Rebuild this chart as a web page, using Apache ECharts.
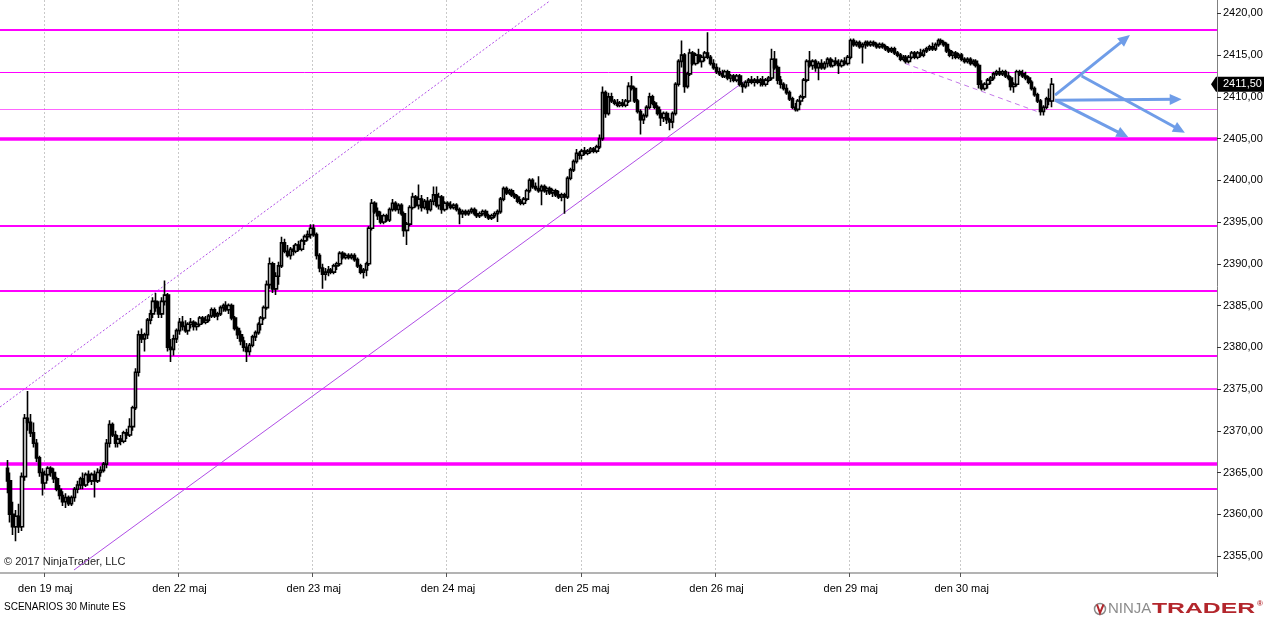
<!DOCTYPE html>
<html>
<head>
<meta charset="utf-8">
<script src="https://cdn.jsdelivr.net/npm/echarts@6/dist/echarts.min.js"></script>
<style>
  html, body { margin: 0; padding: 0; background: #fff; }
  #chart { width: 1264px; height: 617px; }
</style>
</head>
<body>
<div id="chart"></div>
<script>
    // ---------- 30 minute ES bars, each [open, close, low, high] ----------
    const may18 = [
      [2365.5,2364,2362.5,2366.5],[2364,2360,2359,2365],[2360,2358.5,2357.5,2361.5],[2358.5,2359.75,2356.75,2360.5],
      [2359.75,2358.5,2357.75,2361.25],[2358.5,2364.5,2358,2365],[2364.5,2371.5,2364,2372],[2371.5,2371,2370,2374.75],
      [2371,2369.75,2369.25,2372],[2369.75,2368.5,2368,2371],[2368.5,2366.75,2366.25,2369],[2366.75,2365,2364.5,2367],
      [2365,2363.75,2362.25,2365.5]
    ];
    const may19 = [
      [2363.75,2364.75,2363,2365.25],[2364.75,2365.5,2364,2365.75],[2365.5,2365,2364.5,2365.75],[2365,2364.25,2363.75,2365.5],
      [2364.25,2363,2362.75,2364.5],[2363,2362.25,2361.75,2363.5],[2362.25,2361.5,2361,2362.75],[2361.5,2362,2360.75,2362.5],
      [2362,2361.25,2361,2362.25],[2361.25,2362,2361,2362.25],[2362,2363,2361.5,2363.25],[2363,2363.5,2362.5,2364],
      [2363.5,2364.25,2363,2364.5],[2364.25,2363.5,2363,2365],[2363.5,2364.75,2363.25,2365],[2364.75,2364,2363.75,2365.25],
      [2364,2364.75,2363.5,2365],[2364.75,2364,2362,2365.25],[2364,2365,2363.75,2365.5],[2365,2365.25,2364.5,2365.75],
      [2365.25,2366,2365,2366.25],[2366,2368.5,2365.5,2369],[2368.5,2370.75,2368,2371.25],[2370.75,2369.5,2369.25,2371],
      [2369.5,2368.5,2368,2370],[2368.5,2369,2368,2369.5],[2369,2368.75,2368.25,2369.5],[2368.75,2369.75,2368.5,2370],
      [2369.75,2369.5,2369,2370.25],[2369.5,2370.5,2369.25,2371.5],[2370.5,2372.75,2370,2373],[2372.75,2377,2372.5,2377.5],
      [2377,2381.5,2376.5,2382],[2381.5,2381,2380.5,2382.25],[2381,2381.5,2379.5,2381.75],[2381.5,2383.25,2381,2383.5],
      [2383.25,2384,2382.75,2384.5],[2384,2385.5,2383.5,2386],[2385.5,2384.75,2384.25,2386.5],[2384.75,2384,2383.5,2385.5],
      [2384,2385.5,2383.5,2386],[2385.5,2386.25,2385,2388],[2386.25,2380,2379.5,2386.5],[2380,2379.75,2378.25,2381],
      [2379.75,2381,2379,2381.5],[2381,2382,2380.5,2382.25]
    ];
    const may22 = [
      [2382,2383,2381.5,2383.5],[2383,2382.5,2382,2383.75],[2382.5,2382,2381.75,2383.25],[2382,2382.75,2381.5,2383],
      [2382.75,2383,2382.25,2383.5],[2383,2382.5,2382,2383.25],[2382.5,2382.75,2382,2383],[2382.75,2383.5,2382.5,2383.75],
      [2383.5,2383,2382.75,2383.75],[2383,2383.25,2382.75,2383.75],[2383.25,2383.75,2383,2384],[2383.75,2384.5,2383.5,2384.75],
      [2384.5,2383.75,2383.5,2384.75],[2383.75,2384,2383.25,2384.25],[2384,2384.75,2383.75,2385],[2384.75,2385,2384.25,2385.25],
      [2385,2384.5,2384.25,2385.5],[2384.5,2385,2384,2385.25],[2385,2383.5,2383.25,2385.25],[2383.5,2382.25,2382,2383.75],
      [2382.25,2381.5,2381,2382.5],[2381.5,2380.75,2380.25,2382],[2380.75,2380,2379.5,2381.25],[2380,2379.5,2378.25,2380.5],
      [2379.5,2380.25,2379,2380.5],[2380.25,2381.25,2380,2381.5],[2381.25,2381.75,2380.75,2382],[2381.75,2382.75,2381.5,2383],
      [2382.75,2383.5,2382,2383.75],[2383.5,2384.75,2383.25,2385],[2384.75,2387.5,2384.5,2388],[2387.5,2390,2387,2390.75],
      [2390,2387,2386.5,2390.25],[2387,2388.5,2386.25,2389],[2388.5,2389.75,2387.5,2390.25],[2389.75,2392.5,2389.5,2393.25],
      [2392.5,2391.5,2391.25,2393],[2391.5,2391,2390.75,2392.25],[2391,2391.75,2390.5,2392],[2391.75,2391.5,2391,2392.25],
      [2391.5,2392.25,2391.25,2392.5],[2392.25,2391.75,2391.5,2392.75],[2391.75,2392.75,2391.5,2393],[2392.75,2393.25,2392.25,2393.5],
      [2393.25,2393.5,2392.75,2394],[2393.5,2394.25,2393,2394.75]
    ];
    const may23 = [
      [2394.25,2393.5,2393.25,2394.75],[2393.5,2391,2390.5,2393.75],[2391,2389.5,2389,2391.25],[2389.5,2388.75,2387,2390],
      [2388.75,2389,2388,2389.5],[2389,2389.25,2388.5,2389.75],[2389.25,2389,2388.75,2389.5],[2389,2389.75,2388.75,2390],
      [2389.75,2390,2389.25,2390.25],[2390,2391.25,2389.75,2391.5],[2391.25,2390.75,2390.5,2391.5],[2390.75,2391,2390.5,2391.25],
      [2391,2390.75,2390.5,2391.25],[2390.75,2391,2390.5,2391.25],[2391,2390.5,2390.25,2391.25],[2390.5,2389.75,2389.5,2390.75],
      [2389.75,2389,2388.75,2390],[2389,2389.25,2388.25,2389.5],[2389.25,2390,2388.5,2390.25],[2390,2394.25,2389.75,2394.5],
      [2394.25,2397.25,2394,2397.75],[2397.25,2396.25,2396,2397.5],[2396.25,2395.75,2395.25,2396.75],[2395.75,2395,2394.75,2396.25],
      [2395,2395.75,2394.75,2396],[2395.75,2395.25,2395,2396],[2395.25,2396.5,2395,2396.75],[2396.5,2397.25,2396.25,2397.75],
      [2397.25,2396.5,2396.25,2397.5],[2396.5,2397,2396,2397.25],[2397,2396,2395.75,2397.25],[2396,2394,2393.25,2396.25],
      [2394,2394.75,2392.25,2395],[2394.75,2396.75,2394.5,2397],[2396.75,2398,2396.5,2398.5],[2398,2397,2396.75,2398.25],
      [2397,2397.75,2396.5,2399.5],[2397.75,2396.75,2396.25,2398.25],[2396.75,2397.5,2396.5,2397.75],[2397.5,2396.5,2396,2398],
      [2396.5,2397.5,2396.25,2397.75],[2397.5,2398.25,2397,2399.25],[2398.25,2397,2396.75,2399.25],[2397,2398,2396.5,2398.5],
      [2398,2396.5,2396,2398.25],[2396.5,2397.25,2396.25,2397.5]
    ];
    const may24 = [
      [2397.25,2397,2396.5,2397.5],[2397,2396.75,2396.5,2397.5],[2396.75,2397,2396.5,2397.25],[2397,2396.5,2396.25,2397.25],
      [2396.5,2396,2394.75,2396.75],[2396,2396.25,2395.5,2396.5],[2396.25,2396,2395.75,2396.5],[2396,2396.25,2395.75,2396.5],
      [2396.25,2396.5,2396,2396.75],[2396.5,2396,2395.75,2396.75],[2396,2395.75,2395.5,2396.5],[2395.75,2396,2395.5,2396.25],
      [2396,2396.25,2395.75,2396.5],[2396.25,2395.75,2395.5,2396.5],[2395.75,2395.5,2395.25,2396],[2395.5,2395.75,2395.25,2396],
      [2395.75,2396,2395.5,2396.25],[2396,2396.25,2395,2396.5],[2396.25,2397.75,2396,2398],[2397.75,2399,2397.5,2399.25],
      [2399,2398.5,2398.25,2399.25],[2398.5,2398.75,2398.25,2399],[2398.75,2398.25,2398,2399],[2398.25,2398,2397.75,2398.5],
      [2398,2397.5,2397.25,2398.25],[2397.5,2397.25,2397,2397.75],[2397.25,2397.75,2397,2398],[2397.75,2398.75,2397.5,2399],
      [2398.75,2400,2398.5,2400.25],[2400,2399.25,2399,2400.25],[2399.25,2399,2398.75,2399.75],[2399,2398.75,2398.5,2400.5],
      [2398.75,2399.25,2397,2399.5],[2399.25,2398.75,2398.5,2399.5],[2398.75,2399,2398.25,2399.25],[2399,2398.5,2398.25,2399.25],
      [2398.5,2398.75,2398,2399],[2398.75,2398.25,2398,2399],[2398.25,2398,2397.75,2398.75],[2398,2398.25,2397.5,2398.5],
      [2398.25,2398,2396,2398.5],[2398,2400.25,2397.75,2400.5],[2400.25,2401.25,2400,2401.5],[2401.25,2402.25,2401,2402.5],
      [2402.25,2403.25,2402,2403.75],[2403.25,2403,2402.5,2403.5]
    ];
    const may25 = [
      [2403,2403.5,2402.5,2403.75],[2403.5,2403.25,2403,2404],[2403.25,2403.5,2403,2403.75],[2403.5,2403.75,2403.25,2404],
      [2403.75,2403.5,2403.25,2404],[2403.5,2404,2403.25,2404.25],[2404,2405,2403.75,2405.5],[2405,2410.5,2404.75,2411.25],
      [2410.5,2408,2407.5,2410.75],[2408,2410,2407.75,2410.5],[2410,2409.5,2409.25,2410.5],[2409.5,2409.25,2409,2409.75],
      [2409.25,2409,2408.75,2409.75],[2409,2409.25,2408.75,2409.5],[2409.25,2409,2408.75,2409.75],[2409,2409.5,2408.75,2409.75],
      [2409.5,2411.25,2409.25,2411.75],[2411.25,2411,2410.75,2412.5],[2411,2409.5,2409.25,2411.25],[2409.5,2408.25,2408,2409.75],
      [2408.25,2407.25,2405.5,2408.5],[2407.25,2407.75,2406.75,2408],[2407.75,2408.75,2407.5,2409],[2408.75,2410,2408.5,2410.5],
      [2410,2409.25,2409,2410.25],[2409.25,2408.75,2408.5,2409.5],[2408.75,2408,2407.75,2409],[2408,2407.5,2406.5,2408.5],
      [2407.5,2408,2407,2408.25],[2408,2407.25,2406.75,2408.25],[2407.25,2407,2406,2407.5],[2407,2408,2406.25,2408.25],
      [2408,2411.5,2407.75,2411.75],[2411.5,2414.25,2411.25,2414.5],[2414.25,2415,2413.5,2416.75],[2415,2411.25,2410.5,2415.25],
      [2411.25,2412.75,2411,2413],[2412.75,2415.25,2412.5,2415.75],[2415.25,2414,2413.75,2415.5],[2414,2415,2413.75,2415.25],
      [2415,2414.25,2414,2415.75],[2414.25,2414.75,2413.5,2415],[2414.75,2415.25,2414.25,2415.5],[2415.25,2414.75,2414.5,2417.75],
      [2414.75,2414,2413.75,2415],[2414,2413.5,2413.25,2414.5]
    ];
    const may26 = [
      [2413.5,2413,2412.75,2414],[2413,2412.75,2412.5,2413.5],[2412.75,2412.5,2412.25,2413.25],[2412.5,2413,2412.25,2413.25],
      [2413,2412.25,2412,2413.25],[2412.25,2412.5,2411.75,2412.75],[2412.5,2412,2411.75,2412.75],[2412,2412.5,2411.75,2412.75],
      [2412.5,2411.5,2411.25,2412.75],[2411.5,2411.25,2410.5,2411.75],[2411.25,2411.75,2411,2412],[2411.75,2412,2411.25,2412.25],
      [2412,2411.75,2411.5,2412.5],[2411.75,2412,2411.25,2412.25],[2412,2411.75,2411.5,2412.5],[2411.75,2412,2411.25,2412.25],
      [2412,2411.5,2411.25,2412.5],[2411.5,2412,2411.25,2412.25],[2412,2412.25,2411.75,2412.5],[2412.25,2414.5,2412,2415.75],
      [2414.5,2413.5,2413.25,2415.5],[2413.5,2412,2411.5,2413.75],[2412,2411.5,2411,2412.5],[2411.5,2411,2410.75,2411.75],
      [2411,2410.5,2410.25,2411.5],[2410.5,2409.75,2409.5,2410.75],[2409.75,2408.75,2408.5,2410],[2408.75,2408.5,2408.25,2409.25],
      [2408.5,2409.5,2408.25,2409.75],[2409.5,2410,2409,2410.25],[2410,2412,2409.75,2412.25],[2412,2414.25,2411.75,2414.5],
      [2414.25,2413.75,2413.5,2415.5],[2413.75,2414.25,2413.25,2414.5],[2414.25,2413.5,2413,2414.5],[2413.5,2414,2412,2414.25],
      [2414,2413.5,2413.25,2414.5],[2413.5,2414,2413.25,2414.25],[2414,2414.5,2413.5,2414.75],[2414.5,2413.75,2413.5,2414.75],
      [2413.75,2414.25,2413.5,2414.5],[2414.25,2414,2413.75,2414.75],[2414,2413.75,2412.75,2414.5],[2413.75,2414.25,2413.5,2414.5],
      [2414.25,2414,2413.75,2414.75],[2414,2414.75,2413.75,2415]
    ];
    const may29 = [
      [2414.75,2416.75,2414.5,2417],[2416.75,2416.25,2416,2417],[2416.25,2416.5,2416,2416.75],[2416.5,2416,2415.75,2416.75],
      [2416,2416.25,2414,2416.5],[2416.25,2416.5,2415.75,2416.75],[2416.5,2416.25,2416,2416.75],[2416.25,2416.5,2416,2416.75],
      [2416.5,2416.25,2416,2416.75],[2416.25,2416,2415.75,2416.5],[2416,2416.25,2415.75,2416.5],[2416.25,2416,2415.75,2416.5],
      [2416,2415.75,2415.5,2416.25],[2415.75,2415.5,2415.25,2416],[2415.5,2415.75,2415.25,2416],[2415.75,2415.25,2415,2416],
      [2415.25,2415,2414.75,2415.5],[2415,2414.5,2414.25,2415.25],[2414.5,2414.75,2414.25,2415],[2414.75,2414.25,2414,2415],
      [2414.25,2414.75,2414,2415],[2414.75,2415.25,2414.5,2415.5],[2415.25,2414.75,2414.5,2415.5],[2414.75,2415.25,2414.5,2415.5],
      [2415.25,2415,2414.75,2415.75],[2415,2415.5,2414.75,2415.75],[2415.5,2415.75,2415.25,2416],[2415.75,2416,2415.5,2416.25],
      [2416,2415.75,2415.5,2416.5],[2415.75,2416.25,2415.5,2416.5],[2416.25,2416.75,2416,2417],[2416.75,2416.5,2416.25,2417],
      [2416.5,2416.25,2416,2416.75],[2416.25,2415.5,2415.25,2416.5],[2415.5,2415,2414.75,2415.75],[2415,2415.25,2414.5,2415.5],
      [2415.25,2414.75,2414.5,2415.5],[2414.75,2415,2414.5,2415.25]
    ];
    const may30 = [
      [2415,2414.5,2414.25,2415.25],[2414.5,2414.25,2414,2414.75],[2414.25,2414.5,2414,2414.75],[2414.5,2414,2413.75,2414.75],
      [2414,2414.25,2413.75,2414.5],[2414.25,2413.75,2413.5,2414.5],[2413.75,2411.5,2411,2414],[2411.5,2411,2410.75,2412],
      [2411,2411.5,2410.75,2411.75],[2411.5,2412,2411,2412.25],[2412,2412.25,2411.5,2412.5],[2412.25,2412.75,2412,2413],
      [2412.75,2413,2412.5,2413.25],[2413,2412.75,2412.5,2413.5],[2412.75,2413,2412.5,2413.25],[2413,2412.5,2412.25,2413.25],
      [2412.5,2412.25,2412,2413],[2412.25,2411.25,2410.75,2412.5],[2411.25,2411.5,2410.5,2411.75],[2411.5,2413,2411.25,2413.25],
      [2413,2412.75,2412.5,2413.25],[2412.75,2412.5,2412.25,2413.25],[2412.5,2412.25,2412,2413],[2412.25,2411.75,2411.5,2412.5],
      [2411.75,2411,2410.75,2412],[2411,2410.25,2410,2411.25],[2410.25,2409.5,2409.25,2410.5],[2409.5,2408.25,2407.75,2409.75],
      [2408.25,2408.75,2407.75,2409],[2408.75,2409.75,2408.5,2410],[2409.75,2409.5,2409,2411],[2409.5,2411.5,2408.75,2412.25]
    ];
    const sessions = [may18, may19, may22, may23, may24, may25, may26, may29, may30];
    const sessionLabels = ['', 'den 19 maj', 'den 22 maj', 'den 23 maj', 'den 24 maj', 'den 25 maj', 'den 26 maj', 'den 29 maj', 'den 30 maj'];

    // ---------- drawn levels and lines (x = bar slot, y = price) ----------
    const levelPrices = [2418, 2413, 2408.5, 2405, 2394.5, 2386.75, 2379, 2375, 2366, 2363];
    const levelWidths = [2, 1, 1, 3.5, 2, 2, 2, 1.5, 3.5, 2];
    const channelUpper = [[-0.5, 2372.84], [187.8, 2421.47]];
    const channelLower = [[24.86, 2353.32], [254.43, 2411.82]];
    const pullbackLine = [[309.6, 2414.0], [355.2, 2408.2]];
    const scenarioArrows = [
      [[361.0, 2410.2], [385.06, 2416.95]],
      [[361.0, 2409.6], [402.35, 2409.7]],
      [[361.0, 2409.6], [384.3, 2405.47]],
      [[370.1, 2412.5], [403.7, 2406.05]]
    ];

    const FONT = '"Liberation Sans", Arial, sans-serif';
    const LEAD = 2;        // empty slots before the first bar
    const SLOTS = 417;     // slots across the plot, including the empty right side
    const Y_MIN = 2352.96, Y_MAX = 2421.6;

    const allBars = [].concat(...sessions);
    const candleData = [];
    for (let i = 0; i < LEAD; i++) candleData.push(['-', '-', '-', '-']);
    allBars.forEach(b => candleData.push(b));

    // day label at first slot of each session
    const dayLabelAt = {};
    let slot = LEAD;
    sessions.forEach((s, i) => {
      if (sessionLabels[i]) dayLabelAt[slot] = sessionLabels[i];
      slot += s.length;
    });
    const slotNames = Array.from({ length: SLOTS }, (_, i) => String(i));
    const isDayStart = (idx) => dayLabelAt[idx] !== undefined;

    const fmtPrice = v => Number(v).toFixed(2).replace('.', ',');
    const lastClose = allBars[allBars.length - 1][1];

    const chart = echarts.init(document.getElementById('chart'));

    chart.setOption({
      animation: false,
      backgroundColor: '#fff',
      tooltip: { show: false },
      grid: { left: 0, right: 47, top: 0, bottom: 44, containLabel: false, outerBoundsMode: 'none' },
      xAxis: [{
        type: 'category',
        data: slotNames,
        boundaryGap: true,
        axisLine: { show: true, onZero: false, lineStyle: { color: '#9a9a9a', width: 1.5 } },
        axisTick: { show: true, length: 4, interval: isDayStart, lineStyle: { color: '#555' } },
        axisLabel: {
          interval: isDayStart, margin: 10, color: '#000', fontSize: 11, fontFamily: FONT,
          formatter: v => dayLabelAt[Number(v)] || ''
        },
        splitLine: { show: true, interval: isDayStart, lineStyle: { color: '#c9c9c9', width: 1, type: [2, 2] } }
      }, {
        type: 'value', min: -0.5, max: SLOTS - 0.5, show: false,
        axisLine: { show: false, onZero: false }, axisTick: { show: false }, axisLabel: { show: false }, splitLine: { show: false }
      }],
      yAxis: {
        type: 'value', position: 'right', min: Y_MIN, max: Y_MAX, splitNumber: 14,
        axisLine: { show: true, onZero: false, lineStyle: { color: '#808080', width: 1 } },
        axisTick: { show: true, length: 4, lineStyle: { color: '#333' } },
        axisLabel: { showMinLabel: false, showMaxLabel: false, margin: 6, color: '#000', fontSize: 11, fontFamily: FONT, formatter: fmtPrice },
        splitLine: { show: false }
      },
      series: [{
        name: 'upper channel', type: 'line', xAxisIndex: 1, yAxisIndex: 0, z: 1, silent: true,
        data: channelUpper, symbol: 'none',
        lineStyle: { color: '#b04ee6', width: 1, type: [2, 2] },
        markLine: {
          silent: true, z: 1, symbol: ['none', 'none'], label: { show: false }, animation: false,
          data: levelPrices.map((p, i) => ({
            yAxis: p,
            lineStyle: { color: '#ff00ff', width: levelWidths[i], type: 'solid', opacity: p === 2408.5 ? 0.6 : 1 }
          }))
        }
      }, {
        name: 'lower channel', type: 'line', xAxisIndex: 1, yAxisIndex: 0, z: 1, silent: true,
        data: channelLower, symbol: 'none',
        lineStyle: { color: '#b04ee6', width: 1, type: 'solid' }
      }, {
        name: 'pullback', type: 'line', xAxisIndex: 1, yAxisIndex: 0, z: 1, silent: true,
        data: pullbackLine, symbol: 'none',
        lineStyle: { color: '#c47ae8', width: 1, type: [5, 4] }
      }, {
        name: 'ES', type: 'candlestick', xAxisIndex: 0, yAxisIndex: 0, z: 2, silent: true,
        data: candleData, barWidth: 3,
        itemStyle: { color: '#fff', color0: '#000', borderColor: '#000', borderColor0: '#000', borderColorDoji: '#000', borderWidth: 1.6 }
      }, {
        name: 'scenarios', type: 'line', xAxisIndex: 1, yAxisIndex: 0, silent: true, data: [],
        markLine: {
          silent: true, z: 5, animation: false,
          symbol: ['none', 'triangle'], symbolSize: [11, 12],
          label: { show: false },
          lineStyle: { color: '#6f9de8', width: 3, type: 'solid' },
          data: scenarioArrows.map(a => [{ coord: a[0] }, { coord: a[1] }])
        }
      }]
    });

    function buildGraphics() {
      const g = [];
      g.push({ type: 'text', left: 4, top: 556, silent: true,
        style: { text: '© 2017 NinjaTrader, LLC', fill: '#222', font: '11px ' + FONT } });
      g.push({ type: 'text', left: 4, top: 602, silent: true,
        style: { text: 'SCENARIOS 30 Minute ES', fill: '#000', font: '10px ' + FONT } });
      // logo bottom right
      g.push({ type: 'circle', silent: true, shape: { cx: 1100, cy: 609, r: 5.5 }, style: { fill: 'none', stroke: '#8a8a8a', lineWidth: 1.5 } });
      g.push({ type: 'polyline', silent: true, shape: { points: [[1097, 604.5], [1100, 613], [1103.5, 604.5]] }, style: { stroke: '#b3262c', lineWidth: 2, fill: null } });
      g.push({ type: 'text', x: 1108, y: 609, silent: true,
        style: { text: 'NINJA', fill: '#8c8c8c', font: '15px ' + FONT, verticalAlign: 'middle' } });
      g.push({ type: 'text', x: 1152, y: 609, scaleX: 1.65, silent: true,
        style: { text: 'TRADER', fill: '#b3262c', font: 'bold 15px ' + FONT, verticalAlign: 'middle' } });
      g.push({ type: 'text', x: 1257, y: 604, silent: true,
        style: { text: '®', fill: '#b3262c', font: 'bold 8px ' + FONT, verticalAlign: 'middle' } });
      // last price tag on the right axis
      const py = chart.convertToPixel({ yAxisIndex: 0 }, lastClose);
      g.push({ type: 'polygon', silent: true,
        shape: { points: [[1211, py], [1216, py - 7.5], [1264, py - 7.5], [1264, py + 7.5], [1216, py + 7.5]] },
        style: { fill: '#000' } });
      g.push({ type: 'text', x: 1223, y: py, silent: true,
        style: { text: fmtPrice(lastClose), fill: '#fff', font: '11px ' + FONT, verticalAlign: 'middle' } });
      return g;
    }

    chart.setOption({ graphic: buildGraphics() });
</script>
</body>
</html>
